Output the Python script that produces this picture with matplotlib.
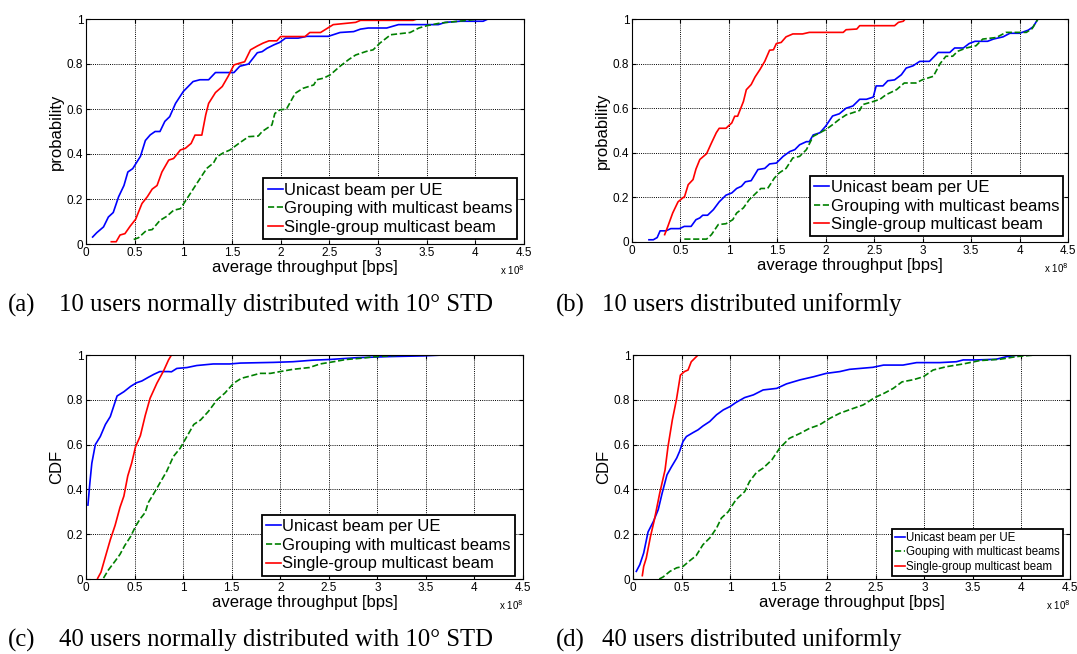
import matplotlib.pyplot as plt

# throughput in units of 1e8 bps, cumulative probability
# (a) 10 users, normal 10 deg STD
a_uni_x = [0.068, 0.11, 0.18, 0.23, 0.28, 0.335, 0.39, 0.43, 0.48, 0.56, 0.61, 0.66, 0.71, 0.76, 0.81, 0.86, 0.92, 1.0,
           1.1, 1.17, 1.26, 1.33, 1.46, 1.52, 1.58, 1.67, 1.76, 1.81, 1.86, 1.93, 1.99, 2.05, 2.18, 2.27, 2.49, 2.61,
           2.75, 2.82, 2.9, 3.09, 3.21, 3.62, 3.69, 3.84, 4.08, 4.13]
a_uni_y = [0.031, 0.05, 0.076, 0.12, 0.14, 0.21, 0.26, 0.32, 0.335, 0.39, 0.46, 0.485, 0.5, 0.5, 0.545, 0.566, 0.625,
           0.678, 0.722, 0.73, 0.73, 0.762, 0.762, 0.762, 0.79, 0.8, 0.85, 0.855, 0.87, 0.885, 0.896, 0.915, 0.915,
           0.923, 0.923, 0.94, 0.944, 0.955, 0.96, 0.96, 0.975, 0.975, 0.985, 0.99, 0.99, 1.0]
a_grp_x = [0.49, 0.54, 0.62, 0.68, 0.76, 0.83, 0.9, 0.97, 1.0, 1.05, 1.14, 1.24, 1.31, 1.345, 1.41, 1.48, 1.57, 1.67,
           1.77, 1.81, 1.91, 1.94, 1.99, 2.06, 2.15, 2.23, 2.34, 2.37, 2.44, 2.51, 2.61, 2.7, 2.77, 2.88, 2.95, 3.02,
           3.13, 3.23, 3.33, 3.42, 3.5, 3.64, 3.83, 3.98, 4.02]
a_grp_y = [0.02, 0.028, 0.06, 0.064, 0.105, 0.123, 0.15, 0.157, 0.177, 0.21, 0.27, 0.336, 0.36, 0.388, 0.405, 0.418,
           0.447, 0.477, 0.48, 0.5, 0.529, 0.58, 0.596, 0.6, 0.67, 0.692, 0.707, 0.73, 0.737, 0.752, 0.79, 0.82, 0.84,
           0.856, 0.863, 0.893, 0.93, 0.935, 0.94, 0.96, 0.97, 0.982, 0.99, 0.997, 1.0]
a_sgl_x = [0.26, 0.31, 0.35, 0.4, 0.455, 0.51, 0.575, 0.63, 0.68, 0.73, 0.78, 0.85, 0.9, 0.97, 1.02, 1.08, 1.12, 1.19,
           1.23, 1.26, 1.33, 1.4, 1.46, 1.52, 1.58, 1.63, 1.69, 1.76, 1.82, 1.88, 1.96, 2.0, 2.25, 2.3, 2.41, 2.54,
           2.77, 2.82, 3.36, 3.4]
a_sgl_y = [0.01, 0.01, 0.04, 0.046, 0.08, 0.11, 0.18, 0.21, 0.244, 0.26, 0.32, 0.373, 0.38, 0.418, 0.425, 0.447,
           0.484, 0.484, 0.574, 0.625, 0.673, 0.7, 0.745, 0.796, 0.804, 0.81, 0.863, 0.88, 0.893, 0.903, 0.903, 0.922,
           0.922, 0.94, 0.94, 0.975, 0.985, 0.994, 0.994, 1.0]

# (b) 10 users, uniform
b_uni_x = [0.175, 0.22, 0.26, 0.29, 0.35, 0.4, 0.49, 0.54, 0.61, 0.66, 0.7, 0.73, 0.78, 0.84, 0.9, 0.97, 1.03, 1.08,
           1.13, 1.17, 1.23, 1.3, 1.37, 1.42, 1.49, 1.56, 1.63, 1.68, 1.73, 1.8, 1.83, 1.87, 1.94, 2.0, 2.07, 2.14,
           2.21, 2.28, 2.35, 2.42, 2.49, 2.52, 2.59, 2.64, 2.71, 2.78, 2.83, 2.9, 2.97, 3.07, 3.16, 3.28, 3.33, 3.42,
           3.48, 3.54, 3.67, 3.73, 3.83, 3.9, 4.0, 4.09, 4.14, 4.19]
b_uni_y = [0.01, 0.01, 0.02, 0.05, 0.05, 0.06, 0.06, 0.07, 0.07, 0.1, 0.108, 0.12, 0.12, 0.145, 0.18, 0.21, 0.22,
           0.24, 0.25, 0.27, 0.275, 0.325, 0.33, 0.35, 0.354, 0.384, 0.406, 0.414, 0.436, 0.45, 0.45, 0.48, 0.49,
           0.52, 0.565, 0.575, 0.6, 0.61, 0.64, 0.64, 0.65, 0.7, 0.7, 0.723, 0.727, 0.75, 0.78, 0.79, 0.81, 0.81,
           0.85, 0.85, 0.87, 0.87, 0.89, 0.9, 0.9, 0.91, 0.92, 0.936, 0.936, 0.95, 0.965, 1.0]
b_grp_x = [0.54, 0.66, 0.77, 0.82, 0.89, 0.97, 1.04, 1.08, 1.15, 1.21, 1.27, 1.33, 1.4, 1.47, 1.52, 1.59, 1.66, 1.73,
           1.8, 1.87, 1.94, 2.0, 2.07, 2.14, 2.21, 2.28, 2.35, 2.38, 2.49, 2.56, 2.62, 2.73, 2.81, 2.93, 3.0, 3.11,
           3.18, 3.24, 3.31, 3.36, 3.45, 3.55, 3.62, 3.76, 3.86, 4.07, 4.13, 4.19]
b_grp_y = [0.013, 0.013, 0.013, 0.033, 0.078, 0.082, 0.1, 0.13, 0.153, 0.19, 0.215, 0.24, 0.24, 0.287, 0.31, 0.33,
           0.377, 0.384, 0.414, 0.474, 0.49, 0.504, 0.526, 0.55, 0.57, 0.58, 0.59, 0.616, 0.63, 0.64, 0.66, 0.683,
           0.713, 0.713, 0.728, 0.743, 0.8, 0.833, 0.833, 0.855, 0.87, 0.88, 0.91, 0.917, 0.94, 0.94, 0.957, 1.0]
b_sgl_x = [0.337, 0.37, 0.42, 0.475, 0.53, 0.54, 0.58, 0.63, 0.66, 0.7, 0.77, 0.82, 0.87, 0.9, 0.97, 1.03, 1.06, 1.09,
           1.15, 1.18, 1.23, 1.27, 1.32, 1.37, 1.42, 1.46, 1.49, 1.54, 1.59, 1.66, 1.76, 1.83, 2.18, 2.21, 2.32, 2.35,
           2.71, 2.75, 2.8, 2.82]
b_sgl_y = [0.033, 0.07, 0.13, 0.18, 0.2, 0.2, 0.257, 0.28, 0.327, 0.37, 0.396, 0.444, 0.49, 0.51, 0.51, 0.534, 0.564,
           0.564, 0.63, 0.683, 0.706, 0.74, 0.773, 0.81, 0.86, 0.862, 0.89, 0.895, 0.92, 0.933, 0.933, 0.94, 0.94,
           0.952, 0.955, 0.97, 0.97, 0.985, 0.99, 1.0]

# (c) 40 users, normal 10 deg STD
c_uni_x = [0.02, 0.04, 0.06, 0.096, 0.147, 0.2, 0.25, 0.32, 0.39, 0.46, 0.52, 0.575, 0.64, 0.7, 0.76, 0.85, 0.88,
           0.935, 1.04, 1.14, 1.31, 1.48, 1.59, 1.93, 2.13, 2.34, 2.51, 2.79, 3.13, 3.47, 3.68]
c_uni_y = [0.33, 0.43, 0.517, 0.6, 0.636, 0.69, 0.725, 0.817, 0.836, 0.86, 0.876, 0.884, 0.9, 0.914, 0.926, 0.926,
           0.925, 0.94, 0.944, 0.953, 0.96, 0.96, 0.964, 0.967, 0.97, 0.977, 0.98, 0.988, 0.993, 0.996, 1.0]
c_grp_x = [0.18, 0.23, 0.3, 0.35, 0.4, 0.46, 0.51, 0.56, 0.61, 0.64, 0.7, 0.76, 0.83, 0.9, 0.97, 1.04, 1.11, 1.18,
           1.26, 1.35, 1.43, 1.52, 1.6, 1.69, 1.79, 1.9, 2.0, 2.13, 2.3, 2.41, 2.55, 2.68, 2.82, 2.99, 3.23, 3.99]
c_grp_y = [0.004, 0.04, 0.08, 0.11, 0.15, 0.19, 0.235, 0.27, 0.297, 0.34, 0.383, 0.428, 0.48, 0.547, 0.584, 0.637,
           0.69, 0.71, 0.748, 0.8, 0.83, 0.874, 0.896, 0.906, 0.918, 0.918, 0.926, 0.936, 0.944, 0.96, 0.97, 0.98,
           0.985, 0.993, 0.999, 1.0]
c_sgl_x = [0.12, 0.154, 0.2, 0.25, 0.3, 0.35, 0.39, 0.43, 0.47, 0.51, 0.56, 0.61, 0.66, 0.73, 0.8, 0.85, 0.88]
c_sgl_y = [0.003, 0.03, 0.1, 0.175, 0.24, 0.32, 0.37, 0.46, 0.517, 0.59, 0.64, 0.73, 0.807, 0.874, 0.93, 0.978, 1.0]

# (d) 40 users, uniform
d_uni_x = [0.034, 0.07, 0.11, 0.155, 0.21, 0.26, 0.3, 0.35, 0.395, 0.45, 0.48, 0.515, 0.55, 0.62, 0.67, 0.72, 0.79,
           0.86, 0.93, 1.0, 1.06, 1.15, 1.24, 1.34, 1.48, 1.58, 1.72, 1.86, 1.99, 2.13, 2.23, 2.47, 2.58, 2.78, 2.92,
           3.16, 3.33, 3.4, 3.54, 3.74, 3.85, 3.98]
d_uni_y = [0.034, 0.064, 0.116, 0.21, 0.257, 0.31, 0.383, 0.465, 0.5, 0.54, 0.57, 0.614, 0.636, 0.654, 0.666, 0.683,
           0.703, 0.733, 0.755, 0.77, 0.788, 0.81, 0.822, 0.844, 0.851, 0.871, 0.889, 0.903, 0.918, 0.926, 0.936,
           0.945, 0.955, 0.955, 0.966, 0.966, 0.97, 0.978, 0.978, 0.981, 0.993, 1.0]
d_grp_x = [0.27, 0.31, 0.38, 0.45, 0.515, 0.58, 0.65, 0.72, 0.79, 0.86, 0.91, 0.98, 1.06, 1.15, 1.2, 1.27, 1.34, 1.43,
           1.51, 1.61, 1.72, 1.82, 1.92, 2.03, 2.13, 2.27, 2.37, 2.49, 2.59, 2.68, 2.77, 2.89, 2.99, 3.09, 3.23, 3.4,
           3.57, 3.78, 3.95, 4.14]
d_grp_y = [0.0, 0.009, 0.034, 0.05, 0.056, 0.08, 0.104, 0.153, 0.183, 0.227, 0.272, 0.3, 0.354, 0.39, 0.435, 0.475,
           0.495, 0.532, 0.584, 0.628, 0.65, 0.673, 0.688, 0.718, 0.74, 0.762, 0.777, 0.81, 0.83, 0.851, 0.88, 0.89,
           0.903, 0.933, 0.948, 0.96, 0.975, 0.981, 0.993, 1.0]
d_sgl_x = [0.096, 0.11, 0.137, 0.18, 0.22, 0.275, 0.33, 0.36, 0.405, 0.447, 0.488, 0.53, 0.567, 0.6, 0.635, 0.67]
d_sgl_y = [0.015, 0.056, 0.094, 0.19, 0.264, 0.383, 0.487, 0.59, 0.71, 0.8, 0.91, 0.926, 0.933, 0.97, 0.985, 1.0]

x_ticks = [0, 0.5, 1, 1.5, 2, 2.5, 3, 3.5, 4, 4.5]
x_tick_labels = ['0', '0.5', '1', '1.5', '2', '2.5', '3', '3.5', '4', '4.5']
y_ticks = [0, 0.2, 0.4, 0.6, 0.8, 1]
y_tick_labels = ['0', '0.2', '0.4', '0.6', '0.8', '1']

labels = ['Unicast beam per UE', 'Grouping with multicast beams', 'Single-group multicast beam']
labels_d = ['Unicast beam per UE', 'Gouping with multicast beams', 'Single-group multicast beam']

captions = [('(a)', '10 users normally distributed with 10° STD'),
            ('(b)', '10 users distributed uniformly'),
            ('(c)', '40 users normally distributed with 10° STD'),
            ('(d)', '40 users distributed uniformly')]

plt.rcParams['font.family'] = 'Liberation Sans'

fig = plt.figure(figsize=(10.77, 6.54), dpi=100)
W, H = 1077, 654


def make_axes(l, t, r, b):
    return fig.add_axes([l / W, 1 - b / H, (r - l) / W, (b - t) / H])


def draw_panel(ax, series, ylabel, leg_labels, leg_size, leg_anchor):
    styles = [dict(color='#0000ff', ls='-'), dict(color='#008000', ls='--'), dict(color='#ff0000', ls='-')]
    for (xs, ys), st, lab in zip(series, styles, leg_labels):
        ax.plot(xs, ys, lw=1.2, label=lab, **st)
    ax.set_xlim(0, 4.5)
    ax.set_ylim(0, 1)
    ax.set_xticks(x_ticks)
    ax.set_xticklabels(x_tick_labels)
    ax.set_yticks(y_ticks)
    ax.set_yticklabels(y_tick_labels)
    ax.tick_params(direction='in', top=True, right=True, length=3, labelsize=8.5, pad=2)
    ax.grid(True, color='black', ls=(0, (1, 1.2)), lw=0.7)
    for s in ax.spines.values():
        s.set_linewidth(0.8)
    ax.set_xlabel('average throughput [bps]', fontsize=12, labelpad=1)
    ax.set_ylabel(ylabel, fontsize=12, labelpad=2)
    ax.text(1.0, -0.085, r'x 10$^{8}$', transform=ax.transAxes, ha='right', va='top', fontsize=7)
    leg = ax.legend(loc='lower right', bbox_to_anchor=leg_anchor, borderaxespad=0, fontsize=leg_size,
                    fancybox=False, framealpha=1, edgecolor='black', handlelength=0.9, handletextpad=0.1,
                    labelspacing=0.22, borderpad=0.25)
    leg.get_frame().set_linewidth(1.3)


ax_a = make_axes(86, 19, 524, 244)
draw_panel(ax_a, [(a_uni_x, a_uni_y), (a_grp_x, a_grp_y), (a_sgl_x, a_sgl_y)], 'probability', labels, 12,
           (0.984, 0.022))
ax_b = make_axes(632, 19, 1068, 242)
draw_panel(ax_b, [(b_uni_x, b_uni_y), (b_grp_x, b_grp_y), (b_sgl_x, b_sgl_y)], 'probability', labels, 12,
           (0.989, 0.025))
ax_c = make_axes(86, 355, 523, 579)
draw_panel(ax_c, [(c_uni_x, c_uni_y), (c_grp_x, c_grp_y), (c_sgl_x, c_sgl_y)], 'CDF', labels, 12,
           (0.982, 0.015))
ax_d = make_axes(633, 355, 1070, 579)
draw_panel(ax_d, [(d_uni_x, d_uni_y), (d_grp_x, d_grp_y), (d_sgl_x, d_sgl_y)], 'CDF', labels_d, 8.3,
           (0.984, 0.015))

# captions under each panel
cap_pos = [(8, 59, 305), (556, 602, 305), (8, 59, 640), (556, 602, 640)]
for (tag, txt), (xt, xc, yc) in zip(captions, cap_pos):
    fig.text(xt / W, 1 - yc / H, tag, family='Liberation Serif', fontsize=17.8, va='center', ha='left')
    fig.text(xc / W, 1 - yc / H, txt, family='Liberation Serif', fontsize=17.8, va='center', ha='left')

fig.savefig('out.png', dpi=100)
